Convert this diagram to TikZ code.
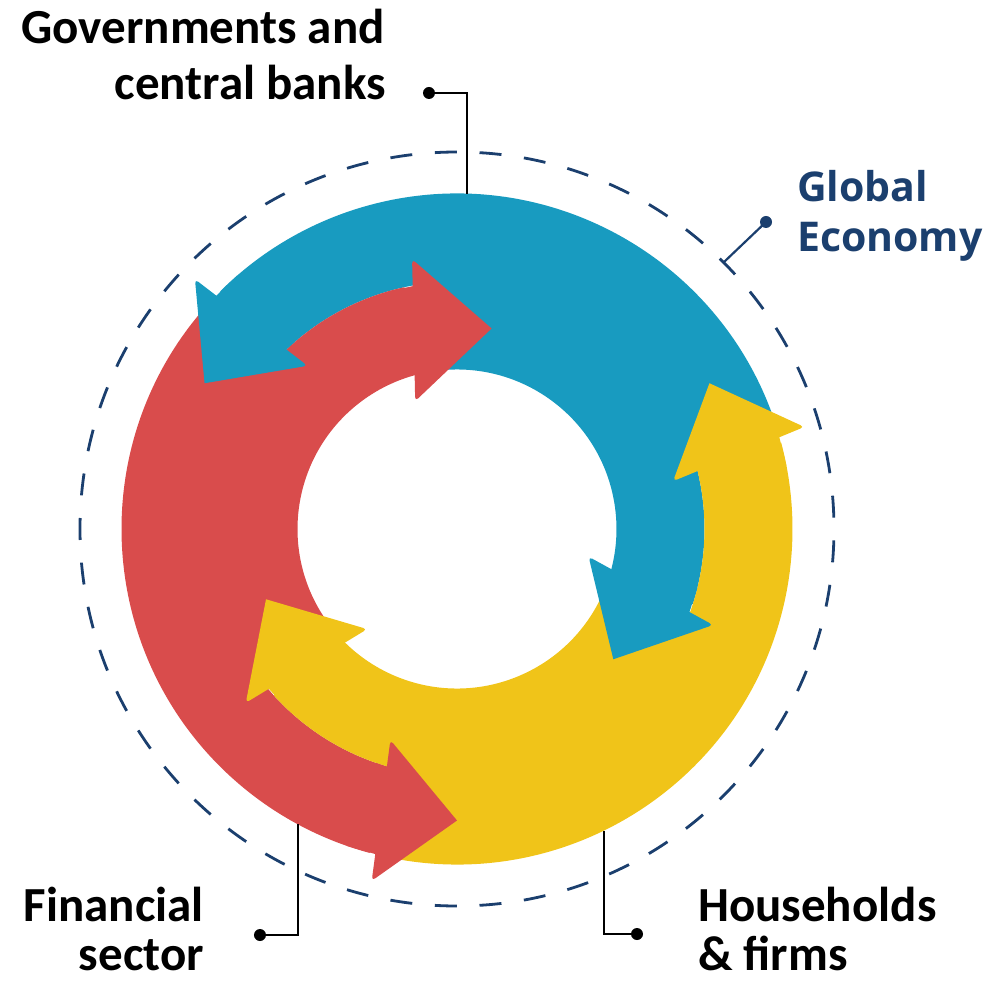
\documentclass[tikz,border=0pt]{standalone}
\usepackage{fontspec}
\usetikzlibrary{calc}
\newfontfamily\labfont{Carlito}
\newfontfamily\gefont{Open Sans}
\definecolor{cblue}{HTML}{189BC0}
\definecolor{cred}{HTML}{D94C4C}
\definecolor{cyel}{HTML}{F0C419}
\definecolor{cnavy}{HTML}{1B3F6E}
\tikzset{
  lab/.style={font=\labfont\bfseries\fontsize{49}{56}\selectfont, inner sep=0pt, text=black},
  gelab/.style={font=\gefont\bfseries\fontsize{41}{50}\selectfont, inner sep=0pt, text=cnavy},
  dot/.style={circle, fill=#1, inner sep=0pt, minimum size=12pt},
  lead/.style={line width=2.6pt, draw=#1},
}
% body of one colour (outer track + inner track, no heads)
\newcommand{\ringbody}[1]{%
  \fill[#1] (17.5:335.5) arc[start angle=17.5, end angle=134.9, radius=335.5]
    -- (134.9:247.5) arc[start angle=134.9, end angle=99.5, radius=247.5]
    -- (99.5:159.5) arc[start angle=99.5, end angle=-17.7, radius=159.5]
    -- (-17.7:247.5) arc[start angle=-17.7, end angle=17.5, radius=247.5] -- cycle;}
% head: #1 colour, #2 track radius, #3 base angle, #4 tip angle, #5 collar angle, #6 outer side, #7 inner side
\newcommand{\arrowtip}[7]{%
  \coordinate (hM) at (#3:#2);
  \coordinate (hT) at (#4:#2);
  \coordinate (hBo) at ($(hM)!71pt!#6:(hT)$);
  \coordinate (hBi) at ($(hM)!71pt!#7:(hT)$);
  \coordinate (hNo) at ($(hM)!44pt!#6:(hT)$);
  \coordinate (hNi) at ($(hM)!44pt!#7:(hT)$);
  \fill[#1] ({#5}:{#2+44}) -- (hNo) [rounded corners=4pt] -- (hBo) [sharp corners] -- (hT)
     [rounded corners=4pt] -- (hBi) [sharp corners] -- (hNi) -- ({#5}:{#2-44}) -- cycle;}
\begin{document}
\begin{tikzpicture}[x=1pt,y=1pt]
\useasboundingbox (-457,-456) rectangle (527,529);
% dashed circle
\draw[cnavy, line width=2.8pt, dash pattern=on 22pt off 22.7pt, dash phase=11pt]
  (180:377) arc[start angle=180, end angle=-180, radius=377];
% bodies
\ringbody{cblue}
\begin{scope}[rotate=120]\ringbody{cred}\end{scope}
\begin{scope}[rotate=240]\ringbody{cyel}\end{scope}
% heads
\arrowtip{cblue}{291.5}{134.9}{150}{130.9}{-90}{90}
\arrowtip{cblue}{203.5}{-17.7}{-39.8}{-13.7}{90}{-90}
\begin{scope}[rotate=120]
\arrowtip{cred}{291.5}{134.9}{150}{130.9}{-90}{90}
\arrowtip{cred}{203.5}{-17.7}{-39.8}{-13.7}{90}{-90}
\end{scope}
\begin{scope}[rotate=240]
\arrowtip{cyel}{291.5}{134.9}{150}{130.9}{-90}{90}
\arrowtip{cyel}{203.5}{-17.7}{-39.8}{-13.7}{90}{-90}
\end{scope}
% leaders
\coordinate (govEnd) at (10,335.4);
\coordinate (finEnd) at (-159,-295.4);
\coordinate (hhEnd) at (147,-301.6);
\coordinate (geEnd) at (45:377);
\node[dot=black] (govDot) at (-28,436) {};
\node[dot=black] (finDot) at (-197,-406) {};
\node[dot=black] (hhDot) at (180,-405) {};
\node[dot=cnavy] (geDot) at (309,307) {};
\draw[lead=black] (govDot.center) -| (govEnd);
\draw[lead=black] (finDot.center) -| (finEnd);
\draw[lead=black] (hhDot.center) -| (hhEnd);
\draw[lead=cnavy, line width=2.2pt] (geDot.center) -- (geEnd);
% labels
\node[lab, anchor=base east] (govA) at (-72,485) {Governments and};
\node[lab, anchor=base east] (govB) at (-71,429) {central banks};
\node[lab, anchor=base east] (finA) at (-253,-392) {Financial};
\node[lab, anchor=base east] (finB) at (-253,-441) {sector};
\node[lab, anchor=base west] (hhA) at (241,-392) {Households};
\node[lab, anchor=base west] (hhB) at (241,-441) {\& firms};
\node[gelab, anchor=base west] (geA) at (340,327) {Global};
\node[gelab, anchor=base west] (geB) at (340,277) {Economy};
\end{tikzpicture}
\end{document}
